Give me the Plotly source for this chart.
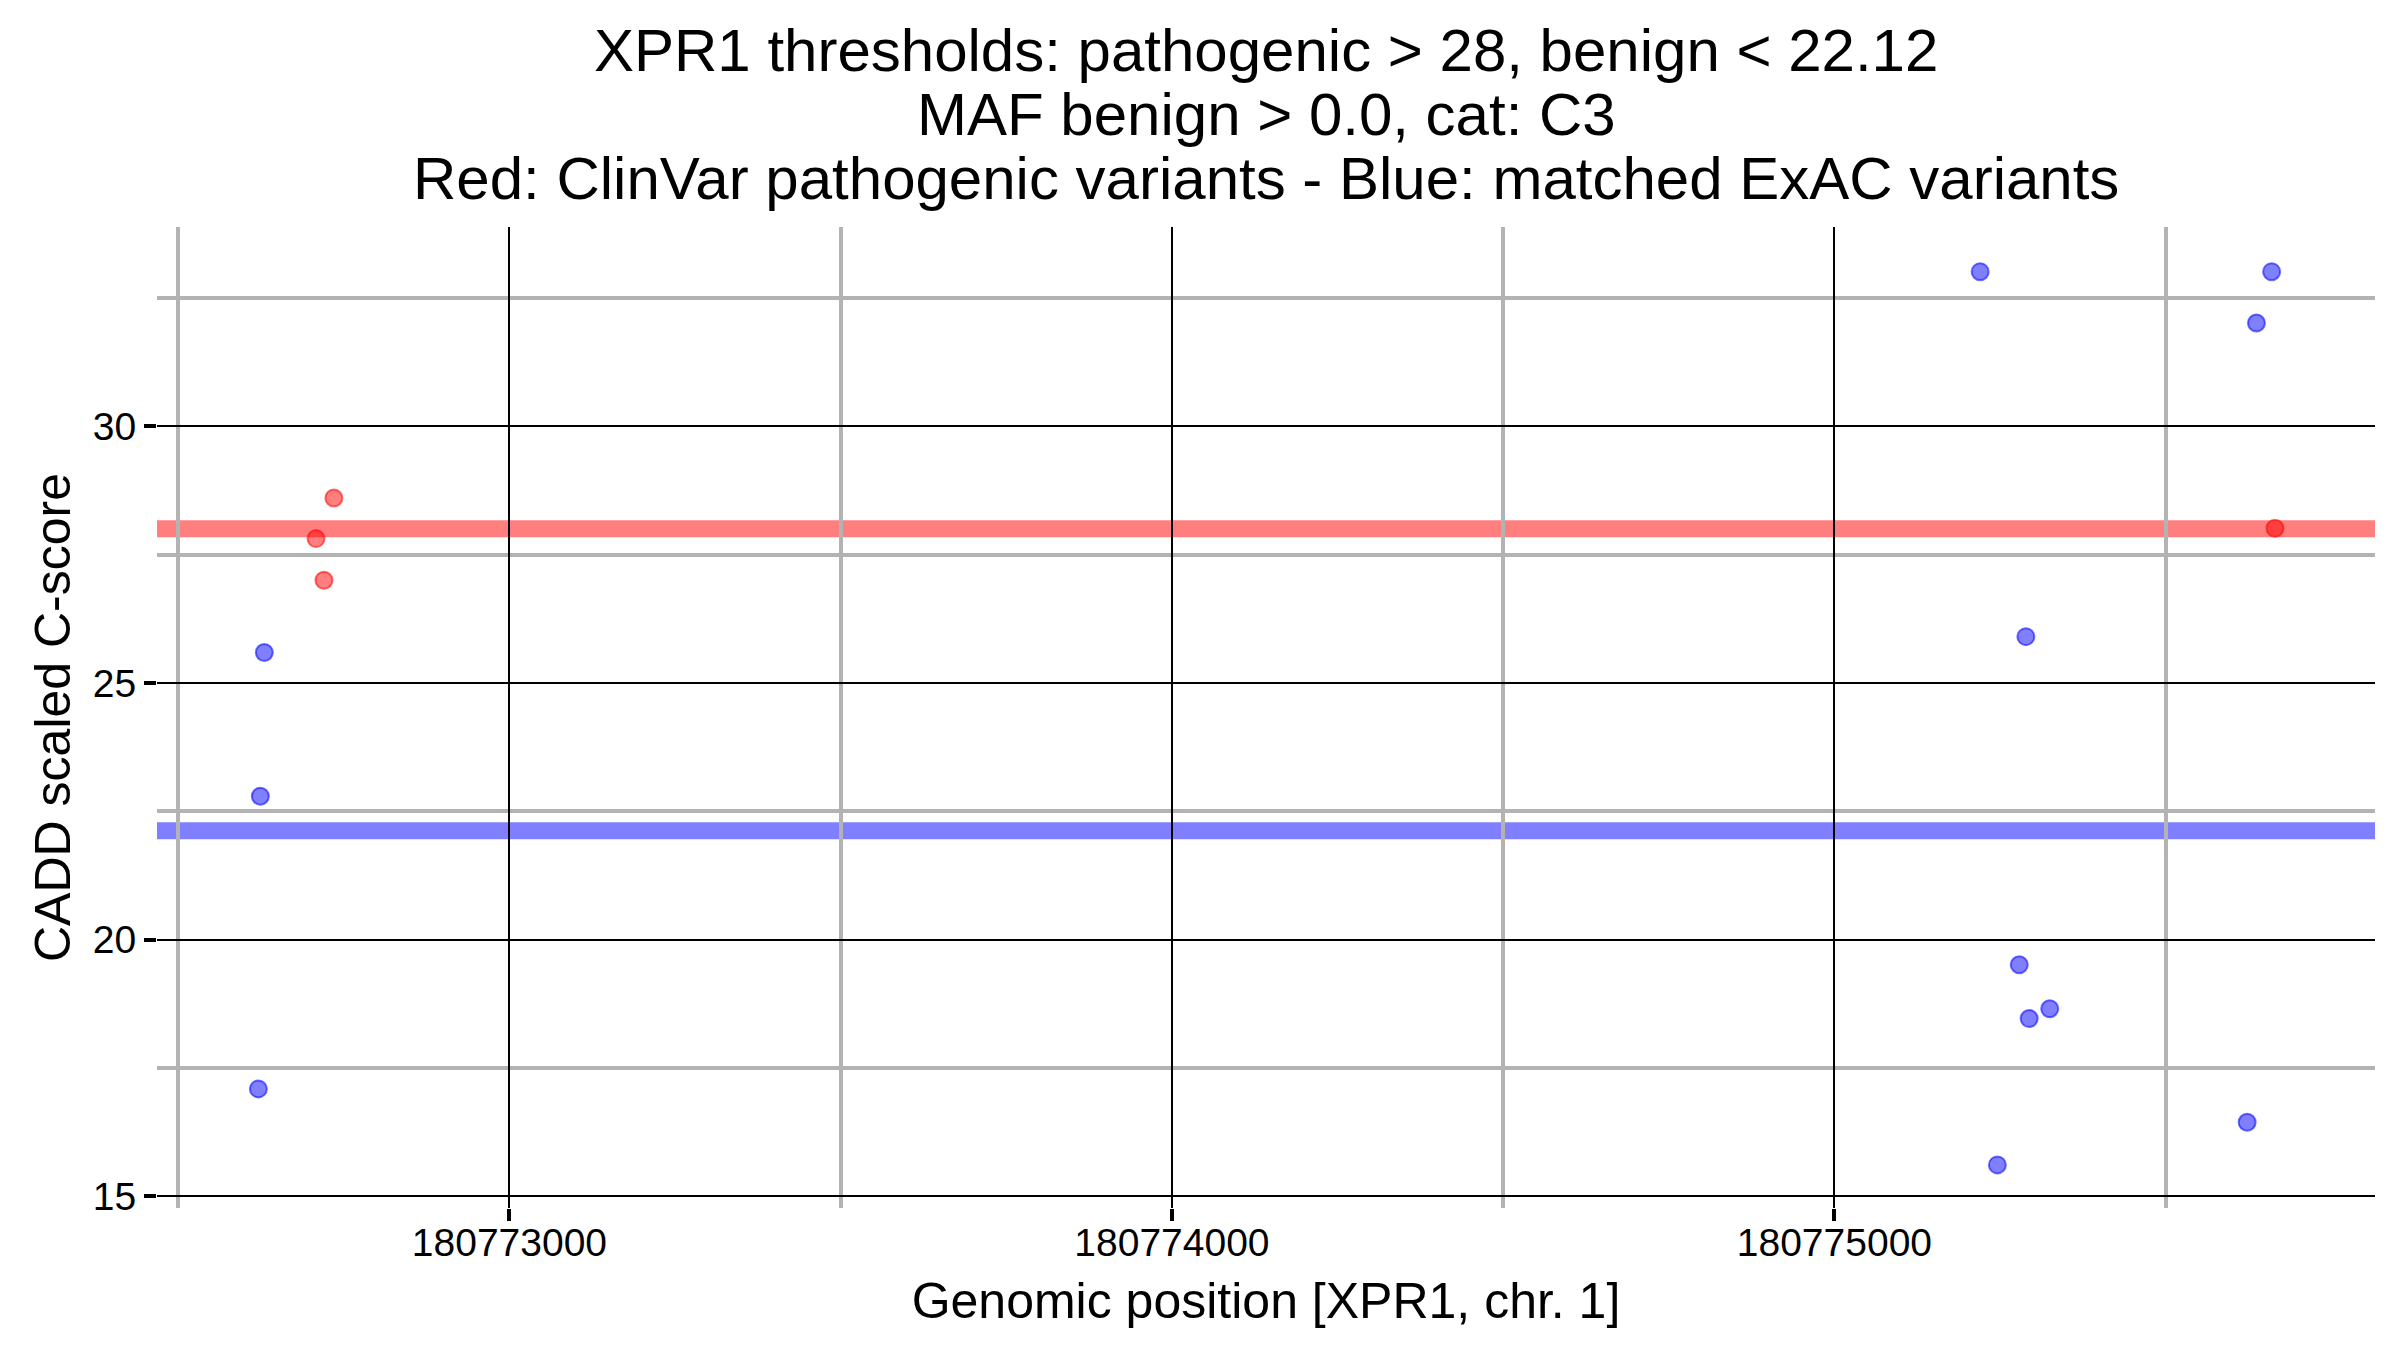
import plotly.graph_objects as go

# ---- data ----
gene = "XPR1"
chrom = "1"
pathogenic_threshold = 28
benign_threshold = 22.12

benign_pos = [180772630, 180772624, 180772621, 180775220, 180775660, 180775637,
              180775289, 180775279, 180775325, 180775294, 180775246, 180775623]
benign_score = [25.59, 22.79, 17.09, 33.01, 33.01, 32.01,
                25.90, 19.51, 18.65, 18.46, 15.61, 16.44]

path_pos = [180772735, 180772708, 180772720, 180775665]
path_score = [28.60, 27.81, 27.00, 28.01]

title_lines = [
    "XPR1 thresholds: pathogenic > 28, benign < 22.12",
    "MAF benign > 0.0, cat: C3",
    "Red: ClinVar pathogenic variants - Blue: matched ExAC variants",
]
x_label = "Genomic position [XPR1, chr. 1]"
y_label = "CADD scaled C-score"

# ---- figure ----
FONT = "Liberation Sans, Arial, Helvetica, sans-serif"
W, H = 2400, 1350
ML, MR, MT, MB = 157, 25, 227, 142

fig = go.Figure()

fig.add_trace(go.Scatter(
    x=benign_pos, y=benign_score, mode="markers", name="ExAC",
    marker=dict(size=17, color="rgba(0,0,255,0.5)",
                line=dict(width=2, color="rgba(0,0,255,0.55)")),
    showlegend=False,
))
fig.add_trace(go.Scatter(
    x=path_pos, y=path_score, mode="markers", name="ClinVar",
    marker=dict(size=17, color="rgba(255,0,0,0.5)",
                line=dict(width=2, color="rgba(255,0,0,0.55)")),
    showlegend=False,
))

# threshold bands
for yv, col in [(pathogenic_threshold, "rgba(255,0,0,0.5)"),
                (benign_threshold, "rgba(0,0,255,0.5)")]:
    fig.add_shape(type="line", xref="paper", x0=0, x1=1, yref="y", y0=yv, y1=yv,
                  line=dict(color=col, width=17), layer="between")

# title lines as annotations (tight line spacing)
plot_h = H - MT - MB
for txt, py in zip(title_lines, [51, 114, 179]):
    fig.add_annotation(text=txt, xref="paper", yref="paper", x=0.5,
                       y=(H - MB - py) / plot_h, xanchor="center", yanchor="middle",
                       showarrow=False, font=dict(family=FONT, size=60, color="black"))

fig.update_layout(
    width=W, height=H,
    margin=dict(l=ML, r=MR, t=MT, b=MB, autoexpand=False),
    paper_bgcolor="white", plot_bgcolor="white",
    font=dict(family=FONT, size=39, color="black"),
    xaxis=dict(
        range=[180772468, 180775816],
        tick0=180773000, dtick=1000, tickformat="d",
        showgrid=True, gridcolor="black", gridwidth=1.5,
        minor=dict(tick0=180772500, dtick=1000, showgrid=True,
                   gridcolor="#b3b3b3", gridwidth=4, ticks=""),
        ticks="outside", ticklen=12, tickwidth=4, tickcolor="black",
        ticklabelstandoff=-12,
        showline=False, zeroline=False,
        tickfont=dict(family=FONT, size=39, color="black"),
        title=dict(text=x_label, font=dict(family=FONT, size=50, color="black"), standoff=20),
    ),
    yaxis=dict(
        range=[14.77, 33.88],
        tick0=0, dtick=5,
        showgrid=True, gridcolor="black", gridwidth=1.5,
        minor=dict(tick0=17.5, dtick=5, showgrid=True,
                   gridcolor="#b3b3b3", gridwidth=4, ticks=""),
        ticks="outside", ticklen=12, tickwidth=4, tickcolor="black",
        showline=False, zeroline=False,
        tickfont=dict(family=FONT, size=39, color="black"),
        title=dict(text=y_label, font=dict(family=FONT, size=50, color="black"), standoff=6),
    ),
)

fig.write_html("out.html", config={"displayModeBar": False},
               post_script="document.body.style.margin='0';")
